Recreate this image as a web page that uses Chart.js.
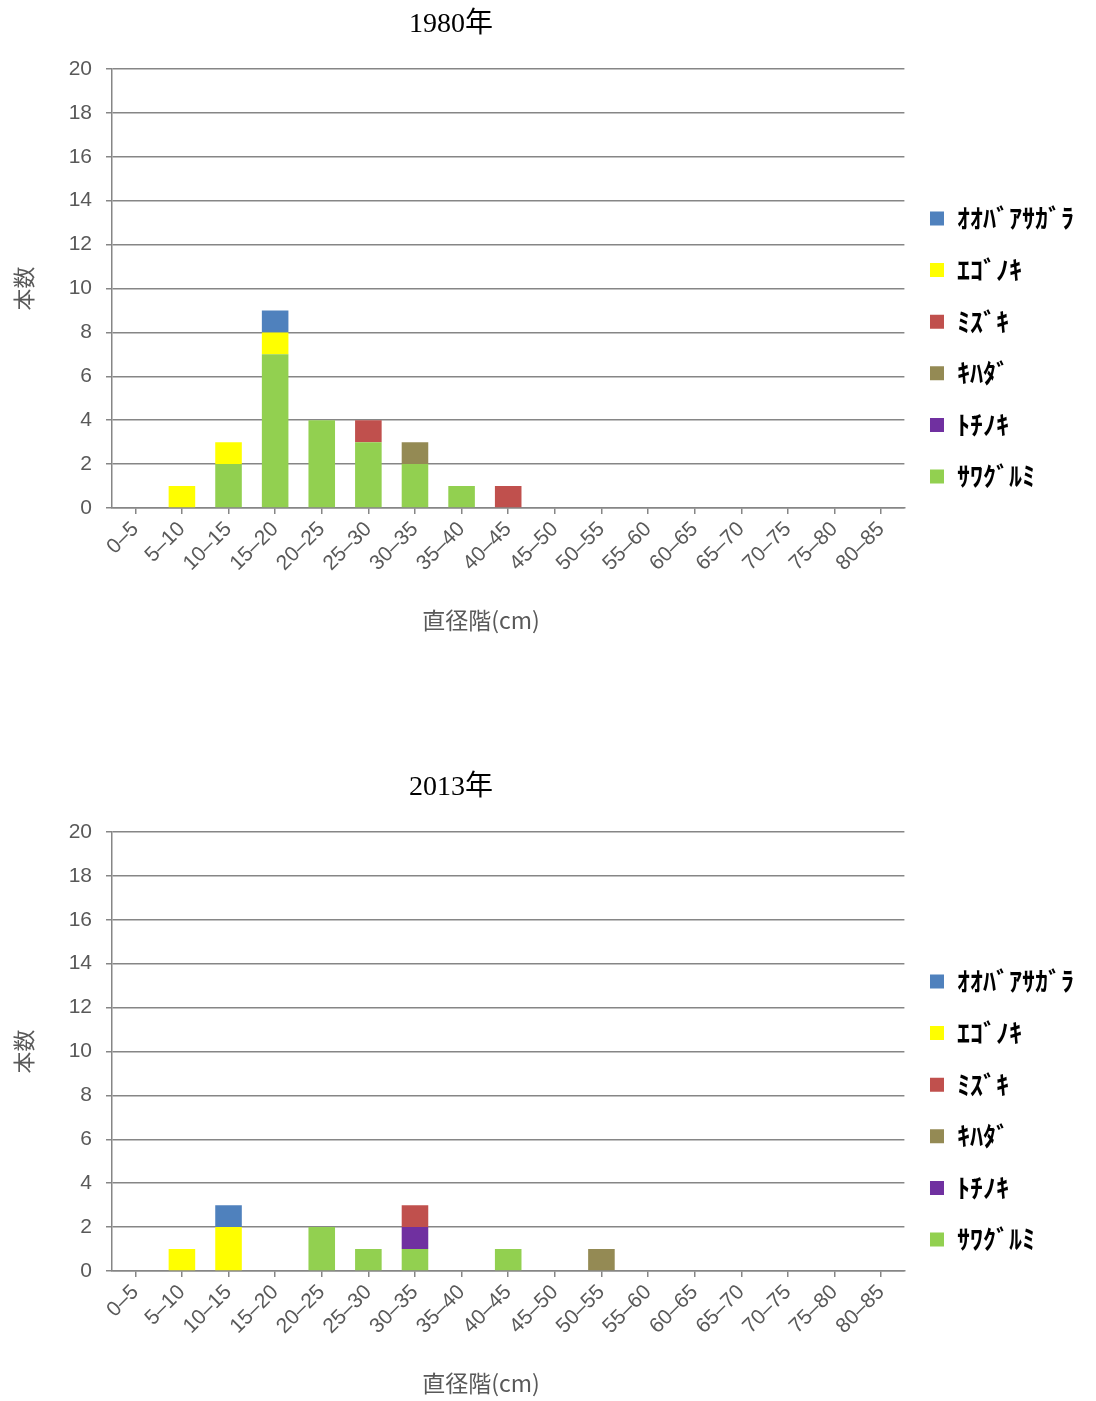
<!DOCTYPE html>
<html>
<head>
<meta charset="utf-8">
<script src="https://cdn.jsdelivr.net/npm/chart.js@4/dist/chart.umd.min.js"></script>
<style>
  html, body { margin: 0; padding: 0; background: #fff; }
  .wrap { position: absolute; left: 0; width: 1096px; height: 638px; }
</style>
</head>
<body>
<div class="wrap" style="top:0"><canvas id="chart1980" width="1096" height="638"></canvas></div>
<div class="wrap" style="top:763px"><canvas id="chart2013" width="1096" height="638"></canvas></div>
<script>
// diameter classes (cm)
const categories = ['0–5', '5–10', '10–15', '15–20', '20–25', '25–30', '30–35', '35–40', '40–45',
  '45–50', '50–55', '55–60', '60–65', '65–70', '70–75', '75–80', '80–85'];

// species, bottom of the stack first
const species = ['ｻﾜｸﾞﾙﾐ', 'ﾄﾁﾉｷ', 'ｷﾊﾀﾞ', 'ﾐｽﾞｷ', 'ｴｺﾞﾉｷ', 'ｵｵﾊﾞｱｻｶﾞﾗ'];
const speciesColors = ['#92D050', '#7030A0', '#948A54', '#C0504D', '#FFFF00', '#4F81BD'];

// 1980
const sawagurumi1980   = [0, 0, 2, 7, 4, 3, 2, 1, 0, 0, 0, 0, 0, 0, 0, 0, 0];
const tochinoki1980    = [0, 0, 0, 0, 0, 0, 0, 0, 0, 0, 0, 0, 0, 0, 0, 0, 0];
const kihada1980       = [0, 0, 0, 0, 0, 0, 1, 0, 0, 0, 0, 0, 0, 0, 0, 0, 0];
const mizuki1980       = [0, 0, 0, 0, 0, 1, 0, 0, 1, 0, 0, 0, 0, 0, 0, 0, 0];
const egonoki1980      = [0, 1, 1, 1, 0, 0, 0, 0, 0, 0, 0, 0, 0, 0, 0, 0, 0];
const oobaasagara1980  = [0, 0, 0, 1, 0, 0, 0, 0, 0, 0, 0, 0, 0, 0, 0, 0, 0];

// 2013
const sawagurumi2013   = [0, 0, 0, 0, 2, 1, 1, 0, 1, 0, 0, 0, 0, 0, 0, 0, 0];
const tochinoki2013    = [0, 0, 0, 0, 0, 0, 1, 0, 0, 0, 0, 0, 0, 0, 0, 0, 0];
const kihada2013       = [0, 0, 0, 0, 0, 0, 0, 0, 0, 0, 1, 0, 0, 0, 0, 0, 0];
const mizuki2013       = [0, 0, 0, 0, 0, 0, 1, 0, 0, 0, 0, 0, 0, 0, 0, 0, 0];
const egonoki2013      = [0, 1, 2, 0, 0, 0, 0, 0, 0, 0, 0, 0, 0, 0, 0, 0, 0];
const oobaasagara2013  = [0, 0, 1, 0, 0, 0, 0, 0, 0, 0, 0, 0, 0, 0, 0, 0, 0];

const yTickValues = [0, 2, 4, 6, 8, 10, 12, 14, 16, 18, 20];

const GRID = '#868686';
const TEXT = '#595959';

// chart title and x axis title, placed like the original sheet
const titlesPlugin = {
  id: 'sheetTitles',
  afterDraw(chart, args, opts) {
    const { ctx, chartArea } = chart;
    ctx.save();
    ctx.textAlign = 'center';
    ctx.textBaseline = 'middle';
    ctx.fillStyle = '#000';
    ctx.font = '28px "Liberation Serif", "Noto Sans CJK JP", serif';
    ctx.fillText(opts.title, 451, 25);
    ctx.fillStyle = TEXT;
    ctx.font = '23px "Noto Sans CJK JP", sans-serif';
    ctx.fillText('直径階(cm)', 481, chartArea.bottom + 112);
    ctx.restore();
  }
};

function makeChart(id, title, seriesList) {
  const ctx = document.getElementById(id).getContext('2d');
  return new Chart(ctx, {
    type: 'bar',
    data: {
      labels: categories,
      datasets: species.map((name, i) => ({
        label: name,
        data: seriesList[i],
        backgroundColor: speciesColors[i],
        borderWidth: 0,
        categoryPercentage: 1,
        barPercentage: 0.57
      }))
    },
    options: {
      responsive: false,
      animation: false,
      layout: { padding: { top: 69, left: 0, right: 12, bottom: 12 } },
      scales: {
        x: {
          stacked: true,
          afterFit: s => { s.height = 118; },
          grid: { drawOnChartArea: false, offset: false, color: GRID, lineWidth: 1.5, tickLength: 6 },
          border: { color: GRID, width: 1.5 },
          ticks: {
            color: TEXT,
            font: { family: '"Liberation Sans", sans-serif', size: 21 },
            minRotation: 45, maxRotation: 45, autoSkip: false, padding: 3
          }
        },
        y: {
          stacked: true,
          min: 0, max: 20,
          afterFit: s => { s.width = 112; },
          afterBuildTicks: s => { s.ticks = yTickValues.map(v => ({ value: v })); },
          grid: { color: GRID, lineWidth: 1.5, tickLength: 6 },
          border: { color: GRID, width: 1.5 },
          ticks: {
            color: TEXT,
            font: { family: '"Liberation Sans", sans-serif', size: 21 },
            padding: 14
          },
          title: {
            display: true,
            text: '本数',
            color: TEXT,
            font: { family: '"Noto Sans CJK JP", sans-serif', size: 22 },
            padding: { top: 10, bottom: 0 }
          }
        }
      },
      plugins: {
        sheetTitles: { title: title },
        tooltip: { enabled: false },
        legend: {
          position: 'right',
          reverse: true,
          maxWidth: 192,
          labels: {
            color: '#000',
            boxWidth: 14,
            boxHeight: 14,
            padding: 25.6,
            font: { family: '"Noto Sans CJK JP", sans-serif', size: 26, weight: 'bold' }
          }
        }
      }
    },
    plugins: [titlesPlugin]
  });
}

makeChart('chart1980', '1980年',
  [sawagurumi1980, tochinoki1980, kihada1980, mizuki1980, egonoki1980, oobaasagara1980]);
makeChart('chart2013', '2013年',
  [sawagurumi2013, tochinoki2013, kihada2013, mizuki2013, egonoki2013, oobaasagara2013]);
</script>
</body>
</html>
